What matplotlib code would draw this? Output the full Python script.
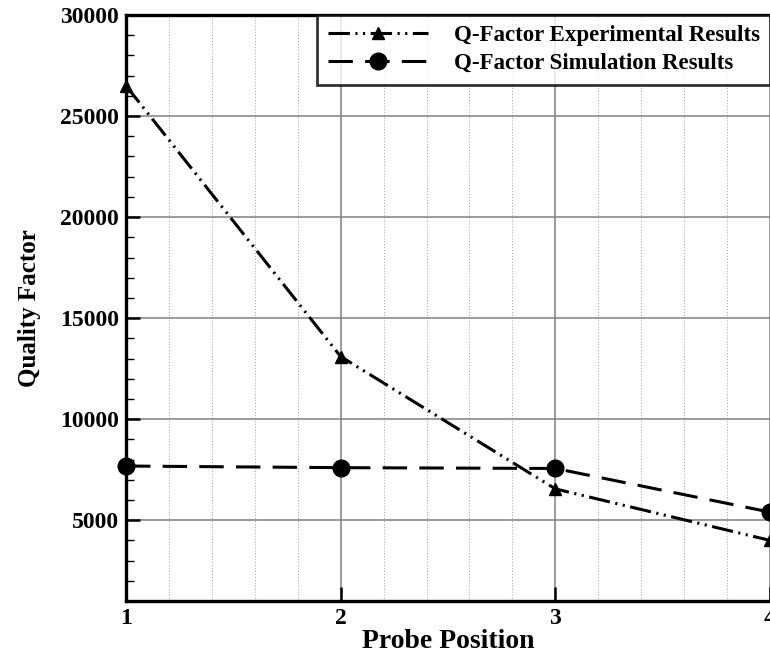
import numpy as np
import matplotlib
matplotlib.use('Agg')
import matplotlib.pyplot as plt
from matplotlib.ticker import MultipleLocator

plt.rcParams['font.family'] = ['Liberation Serif', 'DejaVu Serif']
plt.rcParams['font.weight'] = 'bold'

positions = [1, 2, 3, 4]
q_experimental = [26500, 13100, 6550, 4000]
q_simulation = [7680, 7600, 7560, 5400]

fig = plt.figure(figsize=(7.7, 6.53), dpi=100)
ax = fig.add_axes([0.1636, 0.0796, 0.8364, 0.8974])

ax.plot(positions, q_experimental, color='black', lw=2.2,
        linestyle=(0, (7, 1.8, 0.7, 1.8, 0.7, 1.8)), marker='^', markersize=9,
        clip_on=False, zorder=5, label='Q-Factor Experimental Results')
ax.plot(positions, q_simulation, color='black', lw=2.2,
        linestyle=(0, (8, 4)), marker='o', markersize=12,
        clip_on=False, zorder=5, label='Q-Factor Simulation Results')

ax.set_xlim(1, 4)
ax.set_ylim(1000, 30000)
ax.xaxis.set_major_locator(MultipleLocator(1))
ax.xaxis.set_minor_locator(MultipleLocator(0.2))
ax.yaxis.set_major_locator(MultipleLocator(5000))
ax.yaxis.set_minor_locator(MultipleLocator(1000))

ax.grid(which='major', color='#808080', lw=1.1, ls='-')
ax.grid(which='minor', axis='x', color='#aaaaaa', lw=0.8, ls=':')

ax.tick_params(which='major', direction='in', length=10, width=1.8, labelsize=17, pad=5)
ax.tick_params(which='minor', direction='in', length=6, width=1.0)
ax.tick_params(axis='x', which='minor', length=0)

for s in ['left', 'bottom', 'top']:
    ax.spines[s].set_linewidth(2.4)
ax.spines['right'].set_visible(False)

for lbl in ax.get_xticklabels() + ax.get_yticklabels():
    lbl.set_fontweight('bold')

ax.set_xlabel('Probe Position', fontsize=20, fontweight='bold', labelpad=0)
ax.set_ylabel('Quality Factor', fontsize=18, fontweight='bold', labelpad=14)

leg = ax.legend(loc='upper right', fontsize=16.5, frameon=True, fancybox=False,
                edgecolor='black', handlelength=4.4, borderaxespad=0,
                borderpad=0.45, labelspacing=0.3, handletextpad=1.1)
leg.get_frame().set_linewidth(2.0)
for t in leg.get_texts():
    t.set_fontweight('bold')

fig.savefig('out.png', dpi=100)
